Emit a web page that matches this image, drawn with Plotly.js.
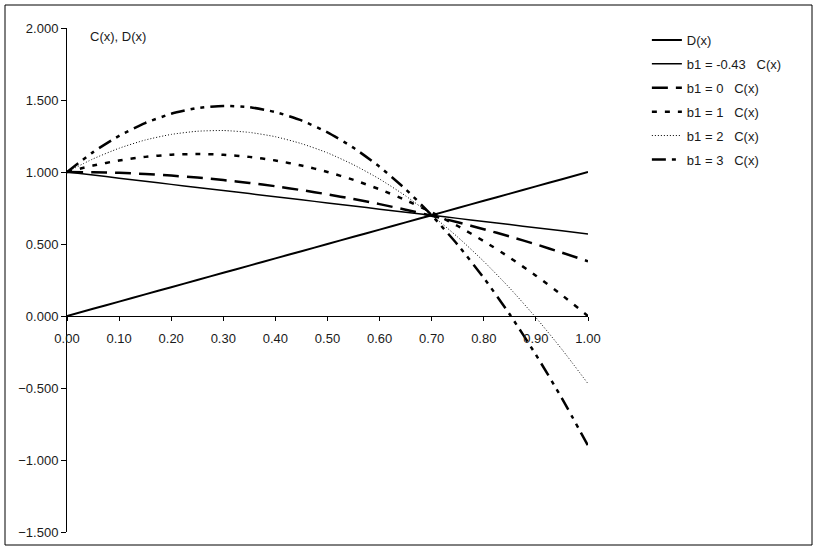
<!DOCTYPE html>
<html>
<head>
<meta charset="utf-8">
<script src="https://cdn.plot.ly/plotly-3.0.1.min.js"></script>
<style>html,body{margin:0;padding:0;background:#fff;}#chart{width:819px;height:551px;}</style>
</head>
<body>
<div id="chart"></div>
<script>
const xs = [0, 0.05, 0.1, 0.15, 0.2, 0.25, 0.3, 0.35, 0.4, 0.45, 0.5, 0.55, 0.6, 0.65, 0.7, 0.75, 0.8, 0.85, 0.9, 0.95, 1.0];
const dX = [0, 0.05, 0.1, 0.15, 0.2, 0.25, 0.3, 0.35, 0.4, 0.45, 0.5, 0.55, 0.6, 0.65, 0.7, 0.75, 0.8, 0.85, 0.9, 0.95, 1.0];
const cNeg043 = [1, 0.979, 0.957, 0.936, 0.914, 0.893, 0.871, 0.850, 0.828, 0.807, 0.785, 0.764, 0.742, 0.721, 0.699, 0.678, 0.656, 0.635, 0.613, 0.592, 0.57];
const c0 = [1, 0.998, 0.994, 0.986, 0.975, 0.961, 0.944, 0.924, 0.901, 0.874, 0.845, 0.812, 0.777, 0.738, 0.696, 0.651, 0.603, 0.552, 0.498, 0.440, 0.38];
const c1 = [1, 1.045, 1.08, 1.105, 1.12, 1.125, 1.12, 1.105, 1.08, 1.045, 1.0, 0.945, 0.88, 0.805, 0.72, 0.625, 0.52, 0.405, 0.28, 0.145, 0.0];
const c2 = [1, 1.091, 1.165, 1.222, 1.261, 1.283, 1.288, 1.275, 1.245, 1.197, 1.133, 1.050, 0.951, 0.834, 0.700, 0.548, 0.379, 0.193, -0.011, -0.232, -0.47];
const c3 = [1, 1.138, 1.251, 1.340, 1.404, 1.444, 1.459, 1.450, 1.416, 1.358, 1.275, 1.168, 1.036, 0.880, 0.699, 0.494, 0.264, 0.010, -0.269, -0.572, -0.90];
const names = ["D(x)", "b1 = -0.43\u00a0\u00a0\u00a0C(x)", "b1 = 0\u00a0\u00a0\u00a0C(x)", "b1 = 1\u00a0\u00a0\u00a0C(x)", "b1 = 2\u00a0\u00a0\u00a0C(x)", "b1 = 3\u00a0\u00a0\u00a0C(x)"];
const yTickVals = [-1.5, -1.0, -0.5, 0, 0.5, 1.0, 1.5, 2.0];

const series = [dX, cNeg043, c0, c1, c2, c3];
const styles = [
  {width: 2, dash: "solid"},
  {width: 1.5, dash: "solid"},
  {width: 2.5, dash: "16px,8px"},
  {width: 2.5, dash: "5px,8px"},
  {width: 1, dash: "1px,2px"},
  {width: 2.5, dash: "14px,6px,4px,6px,4px,6px"}
];
const traces = series.map((ys, i) => ({
  x: xs, y: ys, type: "scatter", mode: "lines", name: names[i],
  legendgroup: "g" + i,
  line: {color: "#000", width: styles[i].width, dash: styles[i].dash, shape: "spline", smoothing: 0.6},
  hoverinfo: "skip"
}));

const font = {family: "Liberation Sans, Arial, sans-serif", size: 13, color: "#1a1a1a"};
const layout = {
  width: 819, height: 551,
  margin: {l: 67, r: 231, t: 28, b: 19},
  paper_bgcolor: "#fff", plot_bgcolor: "#fff",
  font: font,
  showlegend: true,
  legend: {x: 1.113, y: 1.006, xanchor: "left", yanchor: "top", font: font, tracegroupgap: 4, bgcolor: "rgba(0,0,0,0)"},
  xaxis: {
    range: [0, 1], anchor: "free", position: 1.5 / 3.5,
    tickvals: xs.filter((v, i) => i % 2 === 0), tickformat: ".2f",
    ticks: "outside", ticklen: 4, tickcolor: "#000", showline: true, linecolor: "#000", linewidth: 1,
    ticklabelstandoff: 6,
    showgrid: false, zeroline: false, tickfont: font
  },
  yaxis: {
    range: [-1.5, 2.0], tickvals: yTickVals, tickformat: ".3f",
    ticks: "outside", ticklen: 5, tickcolor: "#000", showline: true, linecolor: "#000", linewidth: 1,
    showgrid: false, zeroline: false, tickfont: font
  },
  annotations: [
    {x: 0.04, y: 1.94, xref: "x", yref: "y", text: "C(x), D(x)", showarrow: false, xanchor: "left", yanchor: "middle", font: font},
    {x: 1.017, y: 1.07, xref: "x", yref: "y", text: "D(x)", showarrow: false, xanchor: "left", yanchor: "middle", font: font},
    {x: 1.015, y: 0.01, xref: "x", yref: "y", text: "<b>x</b>", showarrow: false, xanchor: "left", yanchor: "middle", font: font}
  ],
  shapes: [
    {type: "rect", xref: "paper", yref: "paper", x0: (5 - 67) / 521, x1: (812 - 67) / 521, y0: (532 - 545) / 504, y1: (532 - 5) / 504, line: {color: "#000", width: 1}, fillcolor: "rgba(0,0,0,0)"}
  ]
};
Plotly.newPlot("chart", traces, layout, {displayModeBar: false, staticPlot: true});
</script>
</body>
</html>
